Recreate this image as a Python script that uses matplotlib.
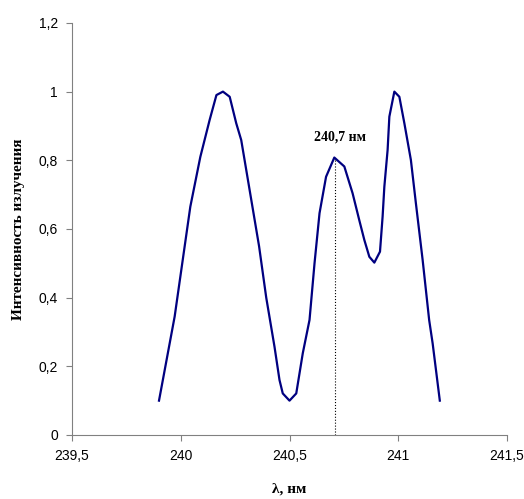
import numpy as np
import matplotlib.pyplot as plt

# Spectrum data
wavelength = [239.90, 239.972, 240.044, 240.09, 240.133, 240.164, 240.194, 240.225,
              240.255, 240.278, 240.36, 240.393, 240.431, 240.454, 240.469, 240.50,
              240.531, 240.561, 240.592, 240.615, 240.638, 240.668, 240.706, 240.752,
              240.79, 240.821, 240.844, 240.867, 240.89, 240.916, 240.928, 240.936,
              240.951, 240.959, 240.982, 241.005, 241.028, 241.058, 241.081, 241.112,
              241.142, 241.158, 241.191]
intensity = [0.10, 0.345, 0.665, 0.81, 0.918, 0.99, 1.0, 0.985,
             0.908, 0.859, 0.55, 0.40, 0.257, 0.16, 0.121, 0.10,
             0.121, 0.238, 0.335, 0.50, 0.646, 0.752, 0.808, 0.782,
             0.704, 0.625, 0.568, 0.519, 0.502, 0.534, 0.636, 0.723,
             0.83, 0.927, 1.0, 0.985, 0.908, 0.801, 0.675, 0.51,
             0.335, 0.267, 0.10]

peak_x = 240.71
peak_y = 0.805
peak_label = "240,7 нм"

xticks = [239.5, 240, 240.5, 241, 241.5]
xtick_labels = ["239,5", "240", "240,5", "241", "241,5"]
yticks = [0, 0.2, 0.4, 0.6, 0.8, 1, 1.2]
ytick_labels = ["0", "0,2", "0,4", "0,6", "0,8", "1", "1,2"]

fig = plt.figure(figsize=(5.24, 4.99), dpi=100)
ax = fig.add_axes([0.1374, 0.1283, 0.8302, 0.8257])

ax.plot(wavelength, intensity, color="#000080", lw=1.6)
ax.plot([peak_x, peak_x], [0, peak_y], color="black", lw=0.8, ls=":")
ax.text(peak_x + 0.02, 0.868, peak_label, ha="center", va="center",
        fontsize=10, fontweight="bold", family="Liberation Serif")

ax.set_xlim(239.5, 241.5)
ax.set_ylim(0, 1.2)
ax.set_xticks(xticks)
ax.set_xticklabels(xtick_labels, family="Liberation Sans", fontsize=10)
ax.set_yticks(yticks)
ax.set_yticklabels(ytick_labels, family="Liberation Sans", fontsize=10)

for s in ["top", "right"]:
    ax.spines[s].set_visible(False)
for s in ["left", "bottom"]:
    ax.spines[s].set_color("#808080")
ax.tick_params(color="#808080", length=4, direction="out", pad=6)

ax.set_xlabel("λ, нм", family="Liberation Serif", fontweight="bold", fontsize=11, labelpad=14)
ax.set_ylabel("Интенсивность излучения", family="Liberation Serif", fontweight="bold",
              fontsize=11, labelpad=10)

plt.savefig("out.png", dpi=100)
